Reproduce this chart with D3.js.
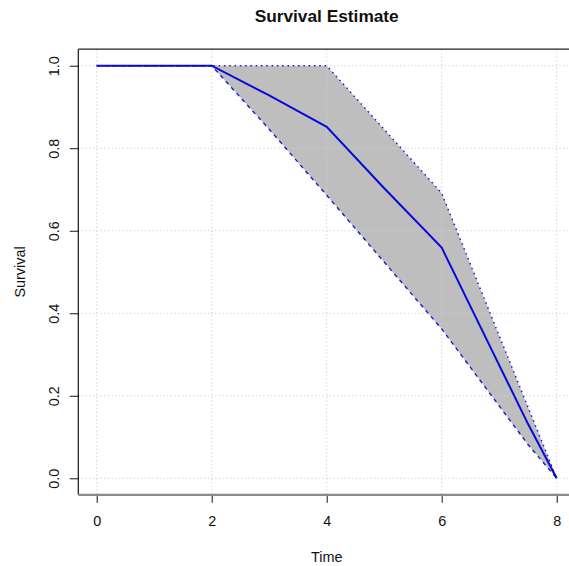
<!DOCTYPE html>
<html>
<head>
<meta charset="utf-8">
<script src="https://cdn.jsdelivr.net/npm/d3@7"></script>
<style>
body { margin:0; background:#fff; }
text { font-family:"Liberation Sans", Arial, sans-serif; }
</style>
</head>
<body>
<svg class="one"></svg>
<script>
// axis ticks
var timeTicks = [0, 2, 4, 6, 8];
var survTicks = [0, 0.2, 0.4, 0.6, 0.8, 1.0];

// survival estimate
var estTime = [0, 2, 3, 4, 5, 6, 7.5, 8];
var estSurv = [1, 1, 0.928, 0.852, 0.703, 0.559, 0.132, 0];

// upper confidence band
var upTime = [0, 2, 4, 6, 8];
var upSurv = [1, 1, 1, 0.691, 0];

// lower confidence band
var loTime = [0, 2, 3, 4, 6, 7.5, 8];
var loSurv = [1, 1, 0.846, 0.686, 0.362, 0.082, 0];

var drawGraph = function(w, h, c)
{
  var screen = {width:w, height:h};

  var svg = d3.select(c)
              .attr("width", screen.width)
              .attr("height", screen.height);

  var margins = {top:49.2, left:78.3};
  var width = 496.8;
  var height = 445.6;

  // R pads the data range by 4% each side
  var xScale = d3.scaleLinear()
                 .domain([-0.32, 8.32])
                 .range([0, width]);
  var yScale = d3.scaleLinear()
                 .domain([-0.04, 1.04])
                 .range([height, 0]);

  var plotLand = svg.append("g")
                    .classed("plot", true)
                    .attr("transform", "translate(" + margins.left + "," + margins.top + ")");

  var pts = function(ts, ss) { return ts.map(function(t, i) { return [t, ss[i]]; }); };
  var line = d3.line()
               .x(function(d) { return xScale(d[0]); })
               .y(function(d) { return yScale(d[1]); });

  // shaded band: upper forwards, lower backwards
  var band = pts(upTime, upSurv).concat(pts(loTime, loSurv).reverse());
  plotLand.append("path")
          .attr("d", line(band) + "Z")
          .attr("fill", "#bebebe")
          .attr("stroke", "none");

  // grid
  plotLand.selectAll(".vgrid")
          .data(timeTicks)
          .enter()
          .append("line")
          .attr("x1", function(d) { return xScale(d); })
          .attr("x2", function(d) { return xScale(d); })
          .attr("y1", 0)
          .attr("y2", height)
          .attr("stroke", "#cfcfcf")
          .attr("stroke-dasharray", "1.3 2.4");
  plotLand.selectAll(".hgrid")
          .data(survTicks)
          .enter()
          .append("line")
          .attr("y1", function(d) { return yScale(d); })
          .attr("y2", function(d) { return yScale(d); })
          .attr("x1", 0)
          .attr("x2", width)
          .attr("stroke", "#cfcfcf")
          .attr("stroke-dasharray", "1.3 2.4");

  // confidence lines
  plotLand.append("path")
          .attr("d", line(pts(upTime, upSurv)))
          .attr("fill", "none")
          .attr("stroke", "#1a1ad0")
          .attr("stroke-width", 1.5)
          .attr("stroke-dasharray", "1.5 3.8");
  plotLand.append("path")
          .attr("d", line(pts(loTime, loSurv)))
          .attr("fill", "none")
          .attr("stroke", "#1a1ad0")
          .attr("stroke-width", 1.4)
          .attr("stroke-dasharray", "4 4");

  // estimate
  plotLand.append("path")
          .attr("d", line(pts(estTime, estSurv)))
          .attr("fill", "none")
          .attr("stroke", "#0a0ad8")
          .attr("stroke-width", 2);

  // axes
  var xAxis = d3.axisBottom(xScale)
                .tickValues(timeTicks)
                .tickSize(8)
                .tickSizeOuter(0)
                .tickFormat(d3.format("d"));
  var xg = svg.append("g").classed("xAxis", true)
              .attr("transform", "translate(" + margins.left + "," + (margins.top + height) + ")")
              .call(xAxis);
  xg.select(".domain").remove();
  xg.selectAll("line").attr("stroke", "#111");
  xg.selectAll("text")
    .attr("y", 31.7)
    .attr("dy", 0)
    .attr("fill", "#111")
    .style("font-size", "14.4px");

  var yAxis = d3.axisLeft(yScale)
                .tickValues(survTicks)
                .tickSize(8.5)
                .tickSizeOuter(0)
                .tickFormat(d3.format(".1f"));
  var yg = svg.append("g").classed("yAxis", true)
              .attr("transform", "translate(" + margins.left + "," + margins.top + ")")
              .call(yAxis);
  yg.select(".domain").remove();
  yg.selectAll("line").attr("stroke", "#111");
  yg.selectAll("text")
    .attr("transform", "rotate(-90)")
    .attr("x", 0)
    .attr("y", -19.5)
    .attr("dy", 0)
    .attr("text-anchor", "middle")
    .attr("fill", "#111")
    .style("font-size", "14.4px");

  // frame: left and top dark, bottom grey
  svg.append("line")
     .attr("x1", margins.left).attr("x2", margins.left)
     .attr("y1", margins.top).attr("y2", margins.top + height)
     .attr("stroke", "#111").attr("stroke-width", 1.2);
  svg.append("line")
     .attr("x1", margins.left).attr("x2", margins.left + width)
     .attr("y1", margins.top).attr("y2", margins.top)
     .attr("stroke", "#222").attr("stroke-width", 1.3);
  svg.append("line")
     .attr("x1", margins.left).attr("x2", margins.left + width)
     .attr("y1", margins.top + height).attr("y2", margins.top + height)
     .attr("stroke", "#8a8a8a").attr("stroke-width", 2.2);

  // titles
  svg.append("text")
     .attr("x", margins.left + width / 2)
     .attr("y", 21.7)
     .attr("text-anchor", "middle")
     .style("font-size", "17.3px")
     .style("font-weight", "bold")
     .attr("fill", "#111")
     .text("Survival Estimate");
  svg.append("text")
     .attr("x", margins.left + width / 2)
     .attr("y", 561.5)
     .attr("text-anchor", "middle")
     .style("font-size", "14.4px")
     .attr("fill", "#111")
     .text("Time");
  svg.append("text")
     .attr("transform", "translate(25," + (margins.top + height / 2) + ") rotate(-90)")
     .attr("text-anchor", "middle")
     .style("font-size", "14.4px")
     .attr("fill", "#111")
     .text("Survival");
}

drawGraph(569, 566, ".one");
</script>
</body>
</html>
